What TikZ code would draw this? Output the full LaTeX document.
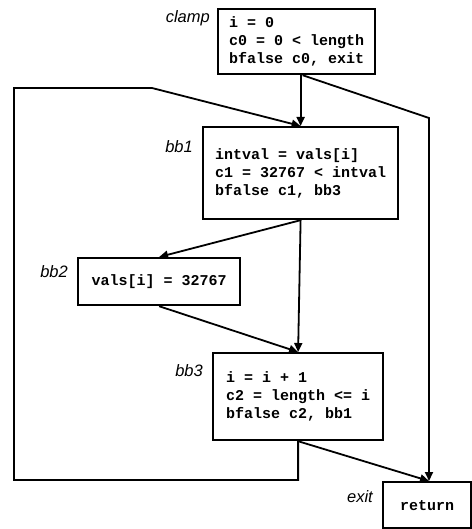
\documentclass[tikz,border=0pt]{standalone}
\usepackage{fontspec}
\usepackage{tikz}
\usetikzlibrary{arrows.meta, positioning, calc}
\newfontfamily\codefont{Liberation Mono}
\newfontfamily\tagfont{Liberation Sans}

\begin{document}
\begin{tikzpicture}[
    x=1pt, y=-1pt,
    block/.style={rectangle, draw=black, fill=white, line width=2.2pt, anchor=north west, inner xsep=4pt, inner ysep=0pt, align=left, font=\codefont\bfseries\fontsize{15}{18}\selectfont},
    tag/.style={inner sep=0pt, font=\tagfont\itshape\fontsize{16.5}{18}\selectfont},
    arrow/.style={-{Triangle[length=9pt, width=8pt]}, line width=1.8pt, black}
]
    \useasboundingbox (0,0) rectangle (471,529);

    \node (clamp) [block, minimum width=157pt, minimum height=65pt] at (217,8) {i = 0\\c0 = 0 < length\\bfalse c0, exit};
    \node (bb1) [block, minimum width=195pt, minimum height=92pt] at (202,126) {intval = vals[i]\\c1 = 32767 < intval\\bfalse c1, bb3};
    \node (bb2) [block, minimum width=162pt, minimum height=47pt] at (77,257) {vals[i] = 32767};
    \node (bb3) [block, minimum width=170pt, minimum height=87pt] at (212,352) {i = i + 1\\c2 = length <= i\\bfalse c2, bb1};
    \node (exit) [block, minimum width=88pt, minimum height=46pt] at (382,481) {return};

    \node (tclamp) [tag, left=7pt of clamp.north west, yshift=-10pt] {clamp};
    \node (tbb1) [tag, left=9pt of bb1.north west, yshift=-21pt] {bb1};
    \node (tbb2) [tag, left=9pt of bb2.north west, yshift=-15pt] {bb2};
    \node (tbb3) [tag, left=9pt of bb3.north west, yshift=-19pt] {bb3};
    \node (texit) [tag, left=9pt of exit.north west, yshift=-16pt] {exit};

    \coordinate (lb) at (14,480);
    \coordinate (lt) at (14,88);
    \coordinate (lk) at (152,88);
    \coordinate (ek) at (429,118);

    \draw [arrow] (clamp.south -| bb1.north) -- (bb1.north);
    \draw [arrow] ([xshift=6pt]clamp.south) -- (ek) -- (ek |- exit.north);
    \draw [arrow] (bb1.south) -- (bb2.north);
    \draw [arrow] (bb1.south) -- (bb3.north);
    \draw [arrow] (bb2.south) -- (bb3.north);
    \draw [arrow] (bb3.south) -- (ek |- exit.north);
    \draw [arrow] (bb3.south) -- (bb3.south |- lb) -- (lb) -- (lt) -- (lk) -- (bb1.north);
\end{tikzpicture}
\end{document}
